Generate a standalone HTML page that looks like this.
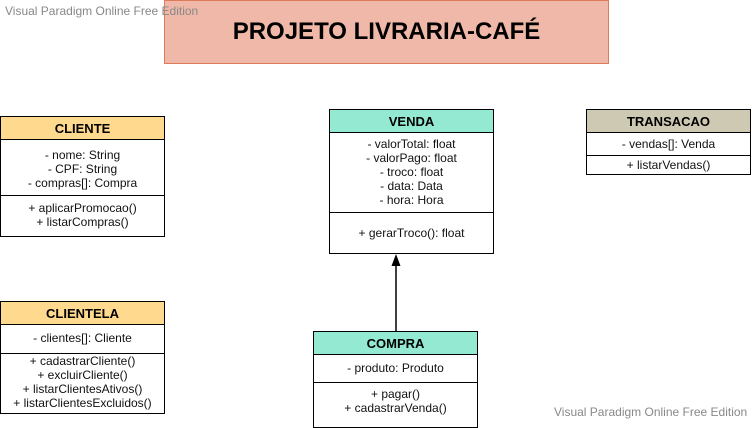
<!DOCTYPE html>
<html><head><meta charset="utf-8"><style>
body{margin:0;width:752px;height:422px;background:#fff;position:relative;overflow:hidden;font-family:"Liberation Sans",Arial,sans-serif;}
.a{position:absolute;box-sizing:border-box;}
.hd{border:1px solid #000;font-weight:bold;font-size:13px;text-align:center;}
.bx{border:1px solid #000;border-top:none;font-size:12px;text-align:center;line-height:14px;color:#111;}
.wm{position:absolute;font-size:12px;color:#888;}
</style></head><body>
<div class="a" style="left:164px;top:0;width:445px;height:64px;background:#f0b8a8;border:1px solid #e07b5a;font-weight:bold;font-size:24px;text-align:center;line-height:62px;">PROJETO LIVRARIA-CAFÉ</div>
<div class="wm" style="left:5px;top:4px;">Visual Paradigm Online Free Edition</div>
<div class="wm" style="left:554px;top:405px;">Visual Paradigm Online Free Edition</div>

<!-- CLIENTE -->
<div class="a hd" style="left:0;top:116px;width:165px;height:24px;background:#ffd98e;line-height:23px;">CLIENTE</div>
<div class="a bx" style="left:0;top:140px;width:165px;height:56px;padding-top:8px;">- nome: String<br>- CPF: String<br>- compras[]: Compra</div>
<div class="a bx" style="left:0;top:196px;width:165px;height:41px;padding-top:5px;">+ aplicarPromocao()<br>+ listarCompras()</div>

<!-- CLIENTELA -->
<div class="a hd" style="left:0;top:301px;width:165px;height:24px;background:#ffd98e;line-height:23px;">CLIENTELA</div>
<div class="a bx" style="left:0;top:325px;width:165px;height:29px;padding-top:6px;">- clientes[]: Cliente</div>
<div class="a bx" style="left:0;top:354px;width:165px;height:60px;padding-top:0px;">+ cadastrarCliente()<br>+ excluirCliente()<br>+ listarClientesAtivos()<br>+ listarClientesExcluidos()</div>

<!-- VENDA -->
<div class="a hd" style="left:329px;top:109px;width:165px;height:24px;background:#93e9d2;line-height:23px;">VENDA</div>
<div class="a bx" style="left:329px;top:133px;width:165px;height:80px;padding-top:4px;">- valorTotal: float<br>- valorPago: float<br>- troco: float<br>- data: Data<br>- hora: Hora</div>
<div class="a bx" style="left:329px;top:213px;width:165px;height:41px;padding-top:13px;">+ gerarTroco(): float</div>

<!-- arrow -->
<svg class="a" style="left:0;top:0" width="752" height="422">
<line x1="396" y1="331" x2="396" y2="264" stroke="#000" stroke-width="1.5"/>
<polygon points="396,254 391.5,266 400.5,266" fill="#000"/>
</svg>

<!-- COMPRA -->
<div class="a hd" style="left:313px;top:331px;width:165px;height:24px;background:#93e9d2;line-height:23px;">COMPRA</div>
<div class="a bx" style="left:313px;top:355px;width:165px;height:28px;padding-top:6px;">- produto: Produto</div>
<div class="a bx" style="left:313px;top:383px;width:165px;height:45px;padding-top:4px;">+ pagar()<br>+ cadastrarVenda()</div>

<!-- TRANSACAO -->
<div class="a hd" style="left:586px;top:109px;width:165px;height:24px;background:#cdc9b2;line-height:23px;">TRANSACAO</div>
<div class="a bx" style="left:586px;top:133px;width:165px;height:23px;padding-top:4px;">- vendas[]: Venda</div>
<div class="a bx" style="left:586px;top:156px;width:165px;height:19px;padding-top:2px;">+ listarVendas()</div>
</body></html>
